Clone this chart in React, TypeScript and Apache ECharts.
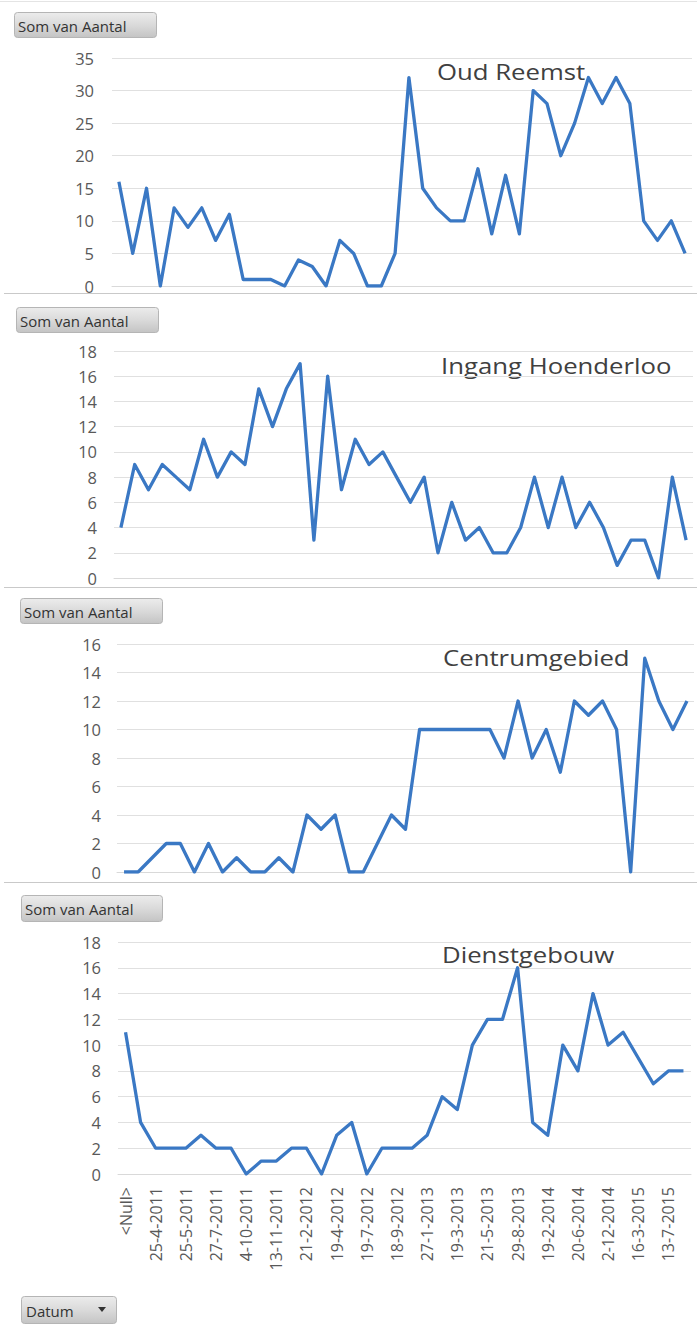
import React, { useEffect, useRef } from "react";
import * as echarts from "echarts";

// ---- data ----
const oudReemst = [16, 5, 15, 0, 12, 9, 12, 7, 11, 1, 1, 1, 0, 4, 3, 0, 7, 5, 0, 0, 5, 32, 15, 12, 10, 10, 18, 8, 17, 8, 30, 28, 20, 25, 32, 28, 32, 28, 10, 7, 10, 5];
const ingangHoenderloo = [4, 9, 7, 9, 8, 7, 11, 8, 10, 9, 15, 12, 15, 17, 3, 16, 7, 11, 9, 10, 8, 6, 8, 2, 6, 3, 4, 2, 2, 4, 8, 4, 8, 4, 6, 4, 1, 3, 3, 0, 8, 3];
const centrumgebied = [0, 0, 1, 2, 2, 0, 2, 0, 1, 0, 0, 1, 0, 4, 3, 4, 0, 0, 2, 4, 3, 10, 10, 10, 10, 10, 10, 8, 12, 8, 10, 7, 12, 11, 12, 10, 0, 15, 12, 10, 12];
const dienstgebouw = [11, 4, 2, 2, 2, 3, 2, 2, 0, 1, 1, 2, 2, 0, 3, 4, 0, 2, 2, 2, 3, 6, 5, 10, 12, 12, 16, 4, 3, 10, 8, 14, 10, 11, 9, 7, 8, 8];
const datumLabels = ["<Null>", "25-4-2011", "25-5-2011", "27-7-2011", "4-10-2011", "13-11-2011", "21-2-2012", "19-4-2012", "19-7-2012", "18-9-2012", "27-1-2013", "19-3-2013", "21-5-2013", "29-8-2013", "19-2-2014", "20-6-2014", "2-12-2014", "16-3-2015", "13-7-2015"];
const panelTitles = ["Oud Reemst", "Ingang Hoenderloo", "Centrumgebied", "Dienstgebouw"];
const yMax = [35, 18, 16, 18];
const yInterval = [5, 2, 2, 2];
const seriesList = [oudReemst, ingangHoenderloo, centrumgebied, dienstgebouw];
const fieldButtonText = "Som van Aantal";
const axisButtonText = "Datum";

// ---- layout / style ----
const grids = [
  { left: 112, top: 58, width: 580, height: 228, labelMargin: 18 },
  { left: 114, top: 351, width: 579, height: 227, labelMargin: 17 },
  { left: 117, top: 644, width: 577, height: 228, labelMargin: 16 },
  { left: 118, top: 942, width: 573, height: 232, labelMargin: 17 },
];
const titlePos = [
  { x: 437, y: 71 },
  { x: 441, y: 365 },
  { x: 443, y: 657 },
  { x: 442, y: 954 },
];
const buttons = [
  { x: 14, y: 12, w: 142, h: 25 },
  { x: 16, y: 307, w: 142, h: 25 },
  { x: 20, y: 598, w: 142, h: 25 },
  { x: 21, y: 895, w: 141, h: 26 },
];
const separators = [1, 293, 587, 882];
const LINE = "#3a78c4";
const FONT = "'Open Sans', sans-serif";

function buttonGradient() {
  return new echarts.graphic.LinearGradient(0, 0, 0, 1, [
    { offset: 0, color: "#ececec" },
    { offset: 0.5, color: "#dadada" },
    { offset: 1, color: "#c4c4c4" },
  ]);
}

export default function App() {
  const ref = useRef<HTMLDivElement>(null);
  useEffect(() => {
    if (!ref.current) return;
    const chart = echarts.init(ref.current, undefined, { renderer: "svg" });

    const graphic: any[] = [];
    separators.forEach((y, i) => {
      graphic.push({
        type: "line",
        shape: { x1: i === 0 ? 0 : 4, y1: y + 0.5, x2: 697, y2: y + 0.5 },
        style: { stroke: i === 0 ? "#e4e4e4" : "#c9c9c9", lineWidth: 1 },
      });
    });
    buttons.forEach((b) => {
      graphic.push({
        type: "rect",
        shape: { x: b.x + 0.5, y: b.y + 0.5, width: b.w, height: b.h, r: 3 },
        style: { fill: buttonGradient(), stroke: "#b5b5b5", lineWidth: 1 },
      });
      graphic.push({
        type: "text",
        x: b.x + 4,
        y: b.y + b.h / 2 + 1,
        style: {
          text: fieldButtonText,
          fontFamily: FONT,
          fontSize: 15,
          fill: "#333333",
          align: "left",
          verticalAlign: "middle",
        },
      });
    });
    // Datum button
    graphic.push({
      type: "rect",
      shape: { x: 21.5, y: 1296.5, width: 95, height: 27, r: 3 },
      style: { fill: buttonGradient(), stroke: "#b5b5b5", lineWidth: 1 },
    });
    graphic.push({
      type: "text",
      x: 26,
      y: 1311,
      style: {
        text: axisButtonText,
        fontFamily: FONT,
        fontSize: 15,
        fill: "#333333",
        align: "left",
        verticalAlign: "middle",
      },
    });
    graphic.push({
      type: "polygon",
      shape: { points: [[98, 1307], [106, 1307], [102, 1312]] },
      style: { fill: "#333333" },
    });
    panelTitles.forEach((t, i) => {
      graphic.push({
        type: "text",
        x: titlePos[i].x,
        y: titlePos[i].y,
        scaleX: 1.17,
        style: {
          text: t,
          fontFamily: FONT,
          fontSize: 22,
          fill: "#404040",
          align: "left",
          verticalAlign: "middle",
        },
      });
    });

    const option: any = {
      animation: false,
      backgroundColor: "#ffffff",
      grid: grids.map((g) => ({ left: g.left, top: g.top, width: g.width, height: g.height, containLabel: false })),
      xAxis: seriesList.map((s, i) => ({
        type: "category",
        gridIndex: i,
        boundaryGap: true,
        data: s.map((_, k) => String(k)),
        axisLine: { show: true, lineStyle: { color: "#d9d9d9", width: 1 } },
        axisTick: { show: false },
        splitLine: { show: false },
        axisLabel:
          i === 3
            ? {
                show: true,
                interval: 0,
                rotate: 90,
                margin: 13,
                fontFamily: FONT,
                fontSize: 16,
                color: "#595959",
                formatter: (v: string) => {
                  const k = Number(v);
                  return k % 2 === 0 && datumLabels[k / 2] !== undefined ? datumLabels[k / 2] : "";
                },
              }
            : { show: false },
      })),
      yAxis: seriesList.map((_, i) => ({
        type: "value",
        gridIndex: i,
        min: 0,
        max: yMax[i],
        interval: yInterval[i],
        axisLine: { show: false },
        axisTick: { show: false },
        splitLine: { show: true, lineStyle: { color: "#e0e0e0", width: 1 } },
        axisLabel: {
          margin: grids[i].labelMargin,
          fontFamily: FONT,
          fontSize: 16.5,
          color: "#595959",
        },
      })),
      series: seriesList.map((s, i) => ({
        type: "line",
        xAxisIndex: i,
        yAxisIndex: i,
        data: s,
        symbol: "none",
        lineStyle: { color: LINE, width: 3.3, join: "round" },
        itemStyle: { color: LINE },
      })),
      graphic,
    };
    chart.setOption(option);
    return () => chart.dispose();
  }, []);
  return (
    <div
      ref={ref}
      style={{ position: "absolute", left: 0, top: 0, width: 697, height: 1334, background: "#fff" }}
    />
  );
}
